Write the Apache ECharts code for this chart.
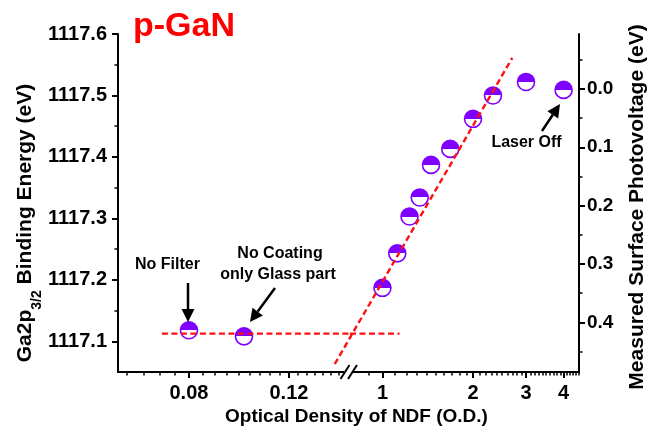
<!DOCTYPE html>
<html>
<head>
<meta charset="utf-8">
<script src="https://cdn.jsdelivr.net/npm/echarts@6/dist/echarts.min.js"></script>
<style>
  html, body { margin: 0; padding: 0; background: #fff; }
  #chart { width: 649px; height: 431px; }
</style>
</head>
<body>
<div id="chart"></div>
<script>
// ---------------- data ----------------
// left part of the broken x axis (log scale, 0.06 .. ~0.154)
const leftOD = [0.08, 0.1];
const leftBE = [1117.118, 1117.108];
// right part of the broken x axis (log scale, 0.78 .. 4.5)
const rightOD = [1.0, 1.12, 1.23, 1.33, 1.45, 1.68, 2.0, 2.33, 3.0, 4.0];
const rightBE = [1117.187, 1117.243, 1117.303, 1117.334, 1117.387, 1117.413, 1117.462, 1117.500, 1117.522, 1117.509];

// red dashed guide lines
const flatLeftOD = [0.0717, 0.1537];
const flatRightOD = [0.78, 1.14];
const flatBE = 1117.1125;
const slopeOD = [0.694, 2.70];
const slopeBE = [1117.063, 1117.561];

// ticks
const beTicks = [1117.1, 1117.2, 1117.3, 1117.4, 1117.5, 1117.6];
const beMinor = [1117.15, 1117.25, 1117.35, 1117.45, 1117.55];
const spvTicks = [0, 0.1, 0.2, 0.3, 0.4];
const spvMinor = [-0.05, 0.05, 0.15, 0.25, 0.35, 0.45];
const odTicksLeft = [0.08, 0.12];
const odTicksRight = [1, 2, 3, 4];

// minor ticks: left part 9 steps between 0.08 and 0.12, right part every 0.1
const odMinorLeft = [];
for (let k = -4; k <= 16; k++) {
  if (k === 0 || k === 9) continue;
  odMinorLeft.push(0.08 + k * 0.04 / 9);
}
const odMinorRight = [];
for (let k = 9; k <= 45; k++) {
  if (k % 10 === 0) continue;
  odMinorRight.push(k / 10);
}

// ---------------- chart ----------------
(function () {
  const FONT = 'Liberation Sans';
  const PURPLE = '#7f00ff';
  const RED = '#ff1010';
  const INK = '#000';

  let myChart = echarts.init(document.getElementById('chart'), null, { renderer: 'canvas' });

  // half filled marker: top purple, bottom white
  const halfFill = new echarts.graphic.LinearGradient(0, 0, 0, 1, [
    { offset: 0, color: PURPLE },
    { offset: 0.5, color: PURPLE },
    { offset: 0.5, color: '#fff' },
    { offset: 1, color: '#fff' }
  ]);

  const grids = [
    { left: 118, top: 34, width: 232, height: 338, outerBoundsMode: 'none', containLabel: false },
    { left: 350, top: 34, width: 229, height: 338, outerBoundsMode: 'none', containLabel: false }
  ];

  const lineStyle = { color: INK, width: 2 };
  const labelStyle = { color: INK, fontFamily: FONT, fontWeight: 'bold', fontSize: 20 };

  function majorX(grid, min, max, ticks, fmt) {
    return {
      type: 'log', logBase: 10, gridIndex: grid, position: 'bottom', min: min, max: max,
      axisLine: { show: true, onZero: false, lineStyle: lineStyle },
      axisTick: { show: true, customValues: ticks, length: 6, lineStyle: { color: INK, width: 2 } },
      axisLabel: Object.assign({ customValues: ticks, margin: 11, formatter: fmt }, labelStyle),
      splitLine: { show: false }, minorTick: { show: false }
    };
  }
  function minorX(grid, min, max, ticks) {
    return {
      type: 'log', logBase: 10, gridIndex: grid, position: 'bottom', min: min, max: max,
      axisLine: { show: false, onZero: false },
      axisTick: { show: true, customValues: ticks, length: 3.5, lineStyle: { color: INK, width: 1.5 } },
      axisLabel: { show: false },
      splitLine: { show: false }
    };
  }

  // arrow helper for annotations
  function arrow(x1, y1, x2, y2) {
    const ang = Math.atan2(y2 - y1, x2 - x1);
    const L = 13, W = 6.5;
    const bx = x2 - L * Math.cos(ang), by = y2 - L * Math.sin(ang);
    const px = -Math.sin(ang) * W, py = Math.cos(ang) * W;
    return [
      { type: 'line', z: 100, shape: { x1: x1, y1: y1, x2: bx, y2: by }, style: { stroke: INK, lineWidth: 2.5 } },
      { type: 'polygon', z: 100, shape: { points: [[x2, y2], [bx + px, by + py], [bx - px, by - py]] }, style: { fill: INK } }
    ];
  }
  function note(x, y, txt, size, rot) {
    return {
      type: 'text', z: 100, x: x, y: y, rotation: rot || 0,
      style: {
        text: txt, fill: INK, font: 'bold ' + (size || 16) + 'px "' + FONT + '"',
        align: 'center', verticalAlign: 'middle', textAlign: 'center', textVerticalAlign: 'middle'
      }
    };
  }

  let graphics = [
    note(167.5, 265, 'No Filter'),
    note(280, 254, 'No Coating'),
    note(278, 275, 'only Glass part'),
    note(526.5, 143, 'Laser Off'),
    note(356.5, 417, 'Optical Density of NDF (O.D.)', 19),
    note(637, 207, 'Measured Surface Photovoltage (eV)', 21, Math.PI / 2),
    // axis break mark
    { type: 'rect', z: 100, shape: { x: 344, y: 368, width: 9, height: 8 }, style: { fill: '#fff' } },
    { type: 'line', z: 101, shape: { x1: 340.5, y1: 379, x2: 349.5, y2: 365 }, style: { stroke: INK, lineWidth: 2 } },
    { type: 'line', z: 101, shape: { x1: 348, y1: 379, x2: 357, y2: 365 }, style: { stroke: INK, lineWidth: 2 } }
  ];
  graphics = graphics.concat(arrow(188, 283, 188, 322));
  graphics = graphics.concat(arrow(275, 288, 250, 322));
  graphics = graphics.concat(arrow(542, 131, 560, 104));

  const markerStyle = { color: halfFill, borderColor: PURPLE, borderWidth: 1.6, opacity: 1 };
  const dashStyle = { color: RED, width: 2.4, type: [6, 3.5] };

  let option = {
    animation: false,
    backgroundColor: '#fff',
    title: {
      text: 'p-GaN', left: 133, top: 10, padding: 0,
      textStyle: { color: '#ff0000', fontFamily: FONT, fontWeight: 'bold', fontSize: 34 }
    },
    grid: grids,
    xAxis: [
      majorX(0, 0.06, 0.1537, odTicksLeft, function (v) { return Number(v).toFixed(2); }),
      minorX(0, 0.06, 0.1537, odMinorLeft),
      majorX(1, 0.78, 4.5, odTicksRight, function (v) { return String(Math.round(v)); }),
      minorX(1, 0.78, 4.5, odMinorRight)
    ],
    yAxis: [
      {
        type: 'value', gridIndex: 0, position: 'left', min: 1117.05, max: 1117.6,
        axisLine: { show: true, onZero: false, lineStyle: lineStyle },
        axisTick: { show: true, customValues: beTicks, length: 6, lineStyle: { color: INK, width: 2 } },
        axisLabel: Object.assign({ customValues: beTicks, margin: 11, formatter: function (v) { return Number(v).toFixed(1); } }, labelStyle),
        splitLine: { show: false },
        name: '{m|Ga2p}{s|3/2}{m| Binding Energy (eV)}',
        nameLocation: 'middle', nameRotate: 90, nameGap: 72,
        nameTextStyle: {
          padding: [0, 40, 0, 0],
          rich: {
            m: { fontFamily: FONT, fontWeight: 'bold', fontSize: 21, color: INK, lineHeight: 38, verticalAlign: 'middle' },
            s: { fontFamily: FONT, fontWeight: 'bold', fontSize: 14, color: INK, lineHeight: 14, verticalAlign: 'bottom' }
          }
        }
      },
      {
        type: 'value', gridIndex: 0, position: 'left', min: 1117.05, max: 1117.6,
        axisLine: { show: false, onZero: false },
        axisTick: { show: true, customValues: beMinor, length: 3.5, lineStyle: { color: INK, width: 1.5 } },
        axisLabel: { show: false }, splitLine: { show: false }
      },
      {
        type: 'value', gridIndex: 1, position: 'left', min: 1117.05, max: 1117.6, show: false,
        axisLine: { onZero: false }, splitLine: { show: false }
      },
      {
        type: 'value', gridIndex: 1, position: 'right', inverse: true, min: -0.094, max: 0.485,
        axisLine: { show: true, onZero: false, lineStyle: lineStyle },
        axisTick: { show: true, customValues: spvTicks, length: 6, lineStyle: { color: INK, width: 2 } },
        axisLabel: Object.assign({ customValues: spvTicks, margin: 8, formatter: function (v) { return Math.abs(v).toFixed(1); } }, labelStyle, { fontSize: 19 }),
        splitLine: { show: false }
      },
      {
        type: 'value', gridIndex: 1, position: 'right', inverse: true, min: -0.094, max: 0.485,
        axisLine: { show: false, onZero: false },
        axisTick: { show: true, customValues: spvMinor, length: 3.5, lineStyle: { color: INK, width: 1.5 } },
        axisLabel: { show: false }, splitLine: { show: false }
      }
    ],
    series: [
      {
        type: 'scatter', xAxisIndex: 0, yAxisIndex: 0, symbol: 'circle', symbolSize: 17,
        itemStyle: markerStyle,
        data: leftOD.map(function (x, i) { return [x, leftBE[i]]; })
      },
      {
        type: 'scatter', xAxisIndex: 2, yAxisIndex: 2, symbol: 'circle', symbolSize: 17,
        itemStyle: markerStyle,
        data: rightOD.map(function (x, i) { return [x, rightBE[i]]; })
      },
      {
        type: 'line', xAxisIndex: 0, yAxisIndex: 0, symbol: 'none', lineStyle: dashStyle, z: 3,
        data: flatLeftOD.map(function (x) { return [x, flatBE]; })
      },
      {
        type: 'line', xAxisIndex: 2, yAxisIndex: 2, symbol: 'none', lineStyle: dashStyle, z: 3,
        data: flatRightOD.map(function (x) { return [x, flatBE]; })
      },
      {
        // linear fit through the rising part; runs past the axis break, so no clipping
        type: 'custom', xAxisIndex: 2, yAxisIndex: 2, z: 3, clip: false,
        data: [[slopeOD[0], slopeBE[0], slopeOD[1], slopeBE[1]]],
        renderItem: function (params, api) {
          const p1 = api.coord([api.value(0), api.value(1)]);
          const p2 = api.coord([api.value(2), api.value(3)]);
          return {
            type: 'line',
            shape: { x1: p1[0], y1: p1[1], x2: p2[0], y2: p2[1] },
            style: { stroke: RED, lineWidth: 2.4, lineDash: [6, 3.5] }
          };
        }
      }
    ],
    graphic: graphics
  };

  myChart.setOption(option);
})();
</script>
</body>
</html>
